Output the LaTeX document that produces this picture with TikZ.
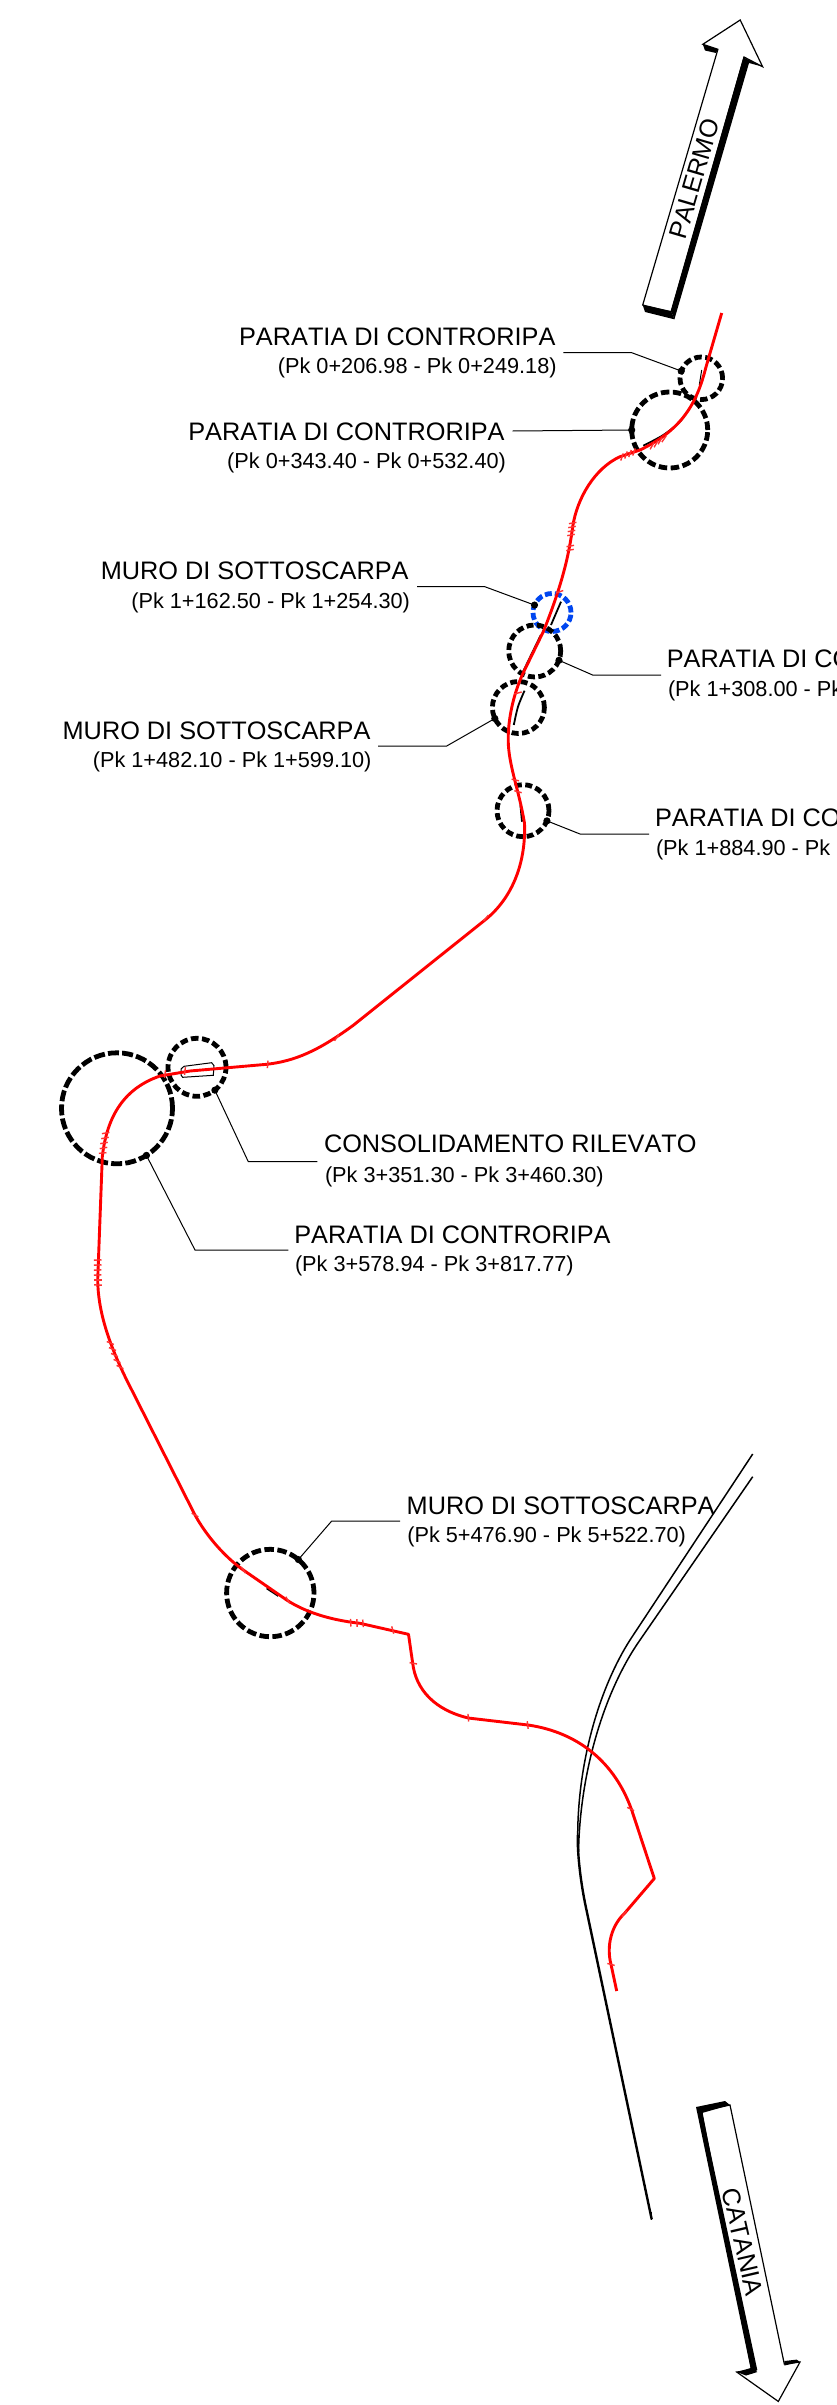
\documentclass[tikz,border=0pt]{standalone}
\usepackage{fontspec}
\setmainfont[Kerning=Off]{Liberation Sans}
\definecolor{tickred}{RGB}{255,50,50}
\tikzset{
  lab/.style={inner sep=0pt,outer sep=0pt,font=\fontsize{25.3}{30}\selectfont},
  subl/.style={inner sep=0pt,outer sep=0pt,font=\fontsize{21.7}{26}\selectfont},
  ring/.style={circle,draw=black,line width=4.8pt,inner sep=0pt,outer sep=0pt,minimum size=#1,dash pattern=on 8pt off 4pt},
  leader/.style={draw=black,line width=1pt},
  dotm/.style={fill=black},
  redline/.style={draw=red,line width=2.9pt,line join=round},
  road/.style={draw=black,line width=1.5pt},
  detail/.style={draw=black,line width=1.8pt},
  thin detail/.style={draw=black,line width=1pt},
  arrowbody/.style={fill=white,draw=black,line width=1.2pt,line join=miter},
  tickm/.style={draw=tickred,line width=1.4pt}
}
\begin{document}
\begin{tikzpicture}[x=1pt,y=-1pt]
\useasboundingbox[fill=white] (0,0) rectangle (837,2405);
\clip (0,0) rectangle (837,2405);

% PALERMO arrow
\draw[arrowbody] (740.2,20) -- (762.6,66.7) -- (744,57) -- (671,312) -- (642.7,305) -- (717.9,49.3) -- (702.8,44.3) -- cycle;
\fill (743.5,57.3) -- (762.6,66.7) -- (749,63) -- (674.4,319.3) -- (671,311) -- cycle;
\fill (642.7,305) -- (671,311) -- (674.4,319.3) -- (645,312) -- cycle;
\fill (702.8,44.3) -- (717.9,49.3) -- (716,53) -- (705,50.5) -- cycle;
\node[lab,rotate=73.7] (palermo) at (694.3,179) {PALERMO};

% CATANIA arrow
\draw[arrowbody] (701.7,2111) -- (730,2105) -- (784.3,2364) -- (800,2362) -- (778.3,2401.4) -- (736.7,2372) -- (751.7,2370) -- cycle;
\fill (696,2107) -- (725,2101) -- (730,2105) -- (702,2113) -- (757.3,2370) -- (751.7,2373.6) -- cycle;
\fill (736.7,2372) -- (751.7,2367.7) -- (757.3,2372) -- (746,2375.5) -- cycle;
\fill (784.3,2361) -- (796.7,2359.6) -- (800,2362) -- (784.3,2365.5) -- cycle;
\node[lab,rotate=-77] (catania) at (742.7,2241.8) {CATANIA};

% Road
\draw[road] (752.7,1454) -- (630,1640) .. controls (600,1687) and (578,1760) .. (577.7,1835);
\draw[road] (752.7,1476.7) -- (640,1640) .. controls (605,1690) and (580,1770) .. (578.5,1852);
\draw[road,line width=2.4pt] (577.7,1835) .. controls (577.5,1860) and (582,1890) .. (586.7,1911) -- (651.7,2219.3);
\draw[road,line width=1pt] (651.7,2212) -- (651.7,2220);

% Rings
\node[ring=42.6pt,dash pattern=on 7.5pt off 3.5pt] (c1) at (701.3,378.3) {};
\node[ring=76pt,dash pattern=on 8.5pt off 3.5pt] (c2) at (669.7,430) {};
\node[ring=38pt,draw={rgb,255:red,0;green,70;blue,240},dash pattern=on 7pt off 3pt] (c3) at (552,612.5) {};
\node[ring=52pt,dash pattern=on 7pt off 3.5pt] (c4) at (534.7,651) {};
\node[ring=52pt,dash pattern=on 7pt off 3.5pt] (c5) at (518.4,707.5) {};
\node[ring=52pt,dash pattern=on 7pt off 3.5pt] (c6) at (523,810.7) {};
\node[ring=58pt,dash pattern=on 7.5pt off 3.5pt] (c7) at (197,1067.3) {};
\node[ring=111pt,dash pattern=on 11pt off 3.2pt] (c8) at (117,1108.3) {};
\node[ring=87.4pt,dash pattern=on 9.5pt off 3.5pt] (c9) at (270.3,1593) {};

% Inner black details
\draw[thin detail] (701.7,370) -- (699.3,385);
\draw[detail] plot[smooth] coordinates {(643.3,445.7) (663.3,435) (680,421.7) (689.3,408.3)};
\draw[detail] (561,601.7) -- (551,625);
\draw[detail] (540.8,635) -- (523,671.7);
\draw[detail] plot[smooth] coordinates {(524.5,690.7) (518,706.7) (513.8,725)};
\draw[detail] (520.4,805) -- (522,821.7);
\draw[thin detail] (181,1069) -- (184,1066.3) -- (211.7,1062.7) -- (214,1065.7) -- (213.3,1075.3) -- (182.7,1077.3) -- (181,1075) -- cycle;
\draw[detail] (266.7,1588.3) -- (278.3,1596);

% Red alignment
\draw[redline] (721.7,313) -- (706,367)
  .. controls (698,398) and (686,428) .. (640,450) -- (620,456.7)
  .. controls (595,468) and (577,498) .. (572.7,526.7)
  .. controls (569,555) and (562,585) .. (543.3,631.7) -- (523,673.3)
  .. controls (513,695) and (508,720) .. (508.2,740)
  .. controls (508.4,765) and (519,790) .. (524.5,823.3)
  .. controls (526,862) and (513,897) .. (485.9,919.3) -- (353,1025.5)
  .. controls (318,1051) and (295,1061) .. (266.7,1064.3) -- (190,1071) -- (160,1076)
  .. controls (125,1088) and (107,1115) .. (102.3,1156.7) -- (97.7,1280)
  .. controls (98,1310) and (108,1342) .. (126.7,1380) -- (193.3,1511.7)
  .. controls (203,1531) and (222,1555) .. (243.3,1570) -- (286.7,1600)
  .. controls (305,1612) and (330,1620) .. (360,1623.3) -- (408.5,1634.3) -- (412.7,1663.3)
  .. controls (416,1690) and (435,1710) .. (468.3,1718) -- (528,1725)
  .. controls (570,1731) and (612,1755) .. (631.7,1810) -- (654.3,1878.5) -- (624.3,1913.6)
  .. controls (612,1925) and (606,1945) .. (611,1964.4) -- (616.7,1991);

% Tick marks on the red line
\foreach \x/\y/\a in {
 622/457/-20,626/455/-20,630/453.5/-20,634/452/-20,
 652/446/-30,656/444/-30,660/441/-30,664/439/-35,
 572.7/523/-80,572/527/-80,571.5/531/-80,571/535/-80,570.3/546/-80,570/550/-80,
 559.6/591.7/-72,518/693/-75,515.3/780/78,518/791.7/75,486/918/-40,
 336.7/1037.7/-35,267.7/1064.3/-5,165/1074/-8,185/1071/-6,
 105.7/1133/-80,105/1138/-80,104/1143/-80,103.5/1148/-80,102.7/1153/-85,
 97.7/1260/-88,97.7/1265/-88,97.6/1270/-88,97.6/1275/-88,97.7/1280/90,98/1285/88,
 110.3/1343/68,112.5/1349/68,114.5/1355/65,117/1361/65,120/1367/65,
 195/1515/62,243.3/1570/35,287.7/1600/30,
 350.7/1622.7/3,357/1623/3,363/1623.3/5,392.7/1630/15,413.3/1663.3/80,
 468.3/1717.7/5,527.7/1725/7,630.7/1809/65,624.3/1913.6/-40,611/1964.4/75}{
 \draw[tickm,shift={(\x,\y)},rotate=\a] (0,-3.8) -- (0,3.8);
}

% Labels
\node[lab,anchor=base east] (t1) at (555.4,345) {PARATIA DI CONTRORIPA};
\node[subl,anchor=base east] (s1) at (556.6,373) {(Pk 0+206.98 - Pk 0+249.18)};
\node[lab,anchor=base east] (t2) at (504.6,440) {PARATIA DI CONTRORIPA};
\node[subl,anchor=base east] (s2) at (505.9,468.3) {(Pk 0+343.40 - Pk 0+532.40)};
\node[lab,anchor=base east] (t3) at (408.6,579.3) {MURO DI SOTTOSCARPA};
\node[subl,anchor=base east] (s3) at (410,608.3) {(Pk 1+162.50 - Pk 1+254.30)};
\node[lab,anchor=base west] (t4) at (666.8,667.3) {PARATIA DI CO};
\node[subl,anchor=base west] (s4) at (668,696) {(Pk 1+308.00 - Pk};
\node[lab,anchor=base east] (t5) at (370.5,739) {MURO DI SOTTOSCARPA};
\node[subl,anchor=base east] (s5) at (371.5,767.3) {(Pk 1+482.10 - Pk 1+599.10)};
\node[lab,anchor=base west] (t6) at (655,826.7) {PARATIA DI CO};
\node[subl,anchor=base west] (s6) at (656,855) {(Pk 1+884.90 - Pk};
\node[lab,anchor=base west] (t7) at (324,1152.7) {CONSOLIDAMENTO RILEVATO};
\node[subl,anchor=base west] (s7) at (325,1182.7) {(Pk 3+351.30 - Pk 3+460.30)};
\node[lab,anchor=base west] (t8) at (294.3,1243.3) {PARATIA DI CONTRORIPA};
\node[subl,anchor=base west] (s8) at (295,1271.7) {(Pk 3+578.94 - Pk 3+817.77)};
\node[lab,anchor=base west] (t9) at (406.7,1514) {MURO DI SOTTOSCARPA};
\node[subl,anchor=base west] (s9) at (407.3,1542.3) {(Pk 5+476.90 - Pk 5+522.70)};

% Leaders
\coordinate (a1) at (563.3,352.7); \coordinate (b1) at (631.7,352.7);
\coordinate (a2) at (512.7,431);
\coordinate (a3) at (417.2,586.7); \coordinate (b3) at (484.8,586.7);
\coordinate (a4) at (661,675); \coordinate (b4) at (592.6,675);
\coordinate (a5) at (378,746); \coordinate (b5) at (446.7,746);
\coordinate (a6) at (649,834); \coordinate (b6) at (580,834);
\coordinate (a7) at (317.3,1161.7); \coordinate (b7) at (248.3,1161.7);
\coordinate (a8) at (288.3,1250); \coordinate (b8) at (195,1250);
\coordinate (a9) at (400,1521); \coordinate (b9) at (331.7,1521);
\draw[leader] (a1) -- (b1) -- (c1.160);
\draw[leader] (a2) -- (c2.180);
\draw[leader] (a3) -- (b3) -- (c3.157);
\draw[leader] (a4) -- (b4) -- (c4.-21);
\draw[leader] (a5) -- (b5) -- (c5.205);
\draw[leader] (a6) -- (b6) -- (c6.-23);
\draw[leader] (a7) -- (b7) -- (c7.-52);
\draw[leader] (a8) -- (b8) -- (c8.-58);
\draw[leader] (a9) -- (b9) -- (c9.50);
\foreach \n/\an in {c1/160,c2/180,c3/157,c4/-21,c5/205,c6/-23,c7/-52,c8/-58,c9/50}{
  \fill[dotm] (\n.\an) circle[radius=3.6pt];
}
\end{tikzpicture}
\end{document}
